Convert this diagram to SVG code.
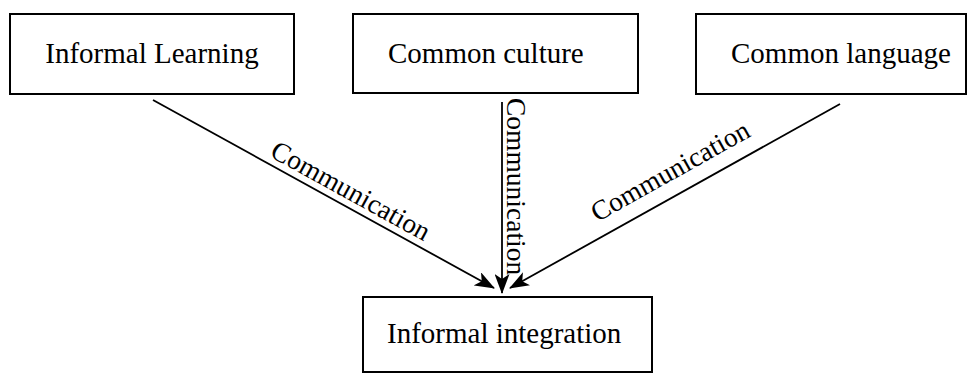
<svg xmlns="http://www.w3.org/2000/svg" width="968" height="374" viewBox="0 0 968 374">
<defs>
<style>
.box{fill:#fff;stroke:#000;stroke-width:2}
.t{font-family:"Liberation Serif","Times New Roman",serif;font-size:29px;fill:#000}
.l{font-family:"Liberation Serif","Times New Roman",serif;font-size:27.5px;fill:#000}
.c{stroke:#000;stroke-width:1.8;fill:none;marker-end:url(#ah)}
</style>
<marker id="ah" viewBox="0 0 20 15" refX="19" refY="7.5" markerWidth="20" markerHeight="15" markerUnits="userSpaceOnUse" orient="auto">
<path d="M0,0 L20,7.5 L0,15 L5,7.5 Z" fill="#000"/>
</marker>
</defs>
<rect width="968" height="374" fill="#fff"/>
<g id="node-informal-learning">
<rect class="box" x="10" y="14" width="284" height="80"/>
<text class="t" x="152" y="63" text-anchor="middle">Informal Learning</text>
</g>
<g id="node-common-culture">
<rect class="box" x="353" y="14" width="285" height="79"/>
<text class="t" x="388" y="63">Common culture</text>
</g>
<g id="node-common-language">
<rect class="box" x="696" y="14" width="270" height="80"/>
<text class="t" x="731" y="63">Common language</text>
</g>
<g id="node-informal-integration">
<rect class="box" x="363" y="297" width="289" height="75"/>
<text class="t" x="387" y="343">Informal integration</text>
</g>
<g id="connectors">
<line class="c" x1="153" y1="100" x2="494" y2="288"/>
<line class="c" x1="502" y1="102" x2="502" y2="293"/>
<line class="c" x1="840" y1="104" x2="510" y2="288"/>
<text class="l" text-anchor="middle" transform="translate(346.4,198.7) rotate(28.9)">Communication</text>
<text class="l" transform="translate(507,98) rotate(90)">Communication</text>
<text class="l" text-anchor="middle" transform="translate(674.7,178.9) rotate(-29.2)">Communication</text>
</g>
</svg>
